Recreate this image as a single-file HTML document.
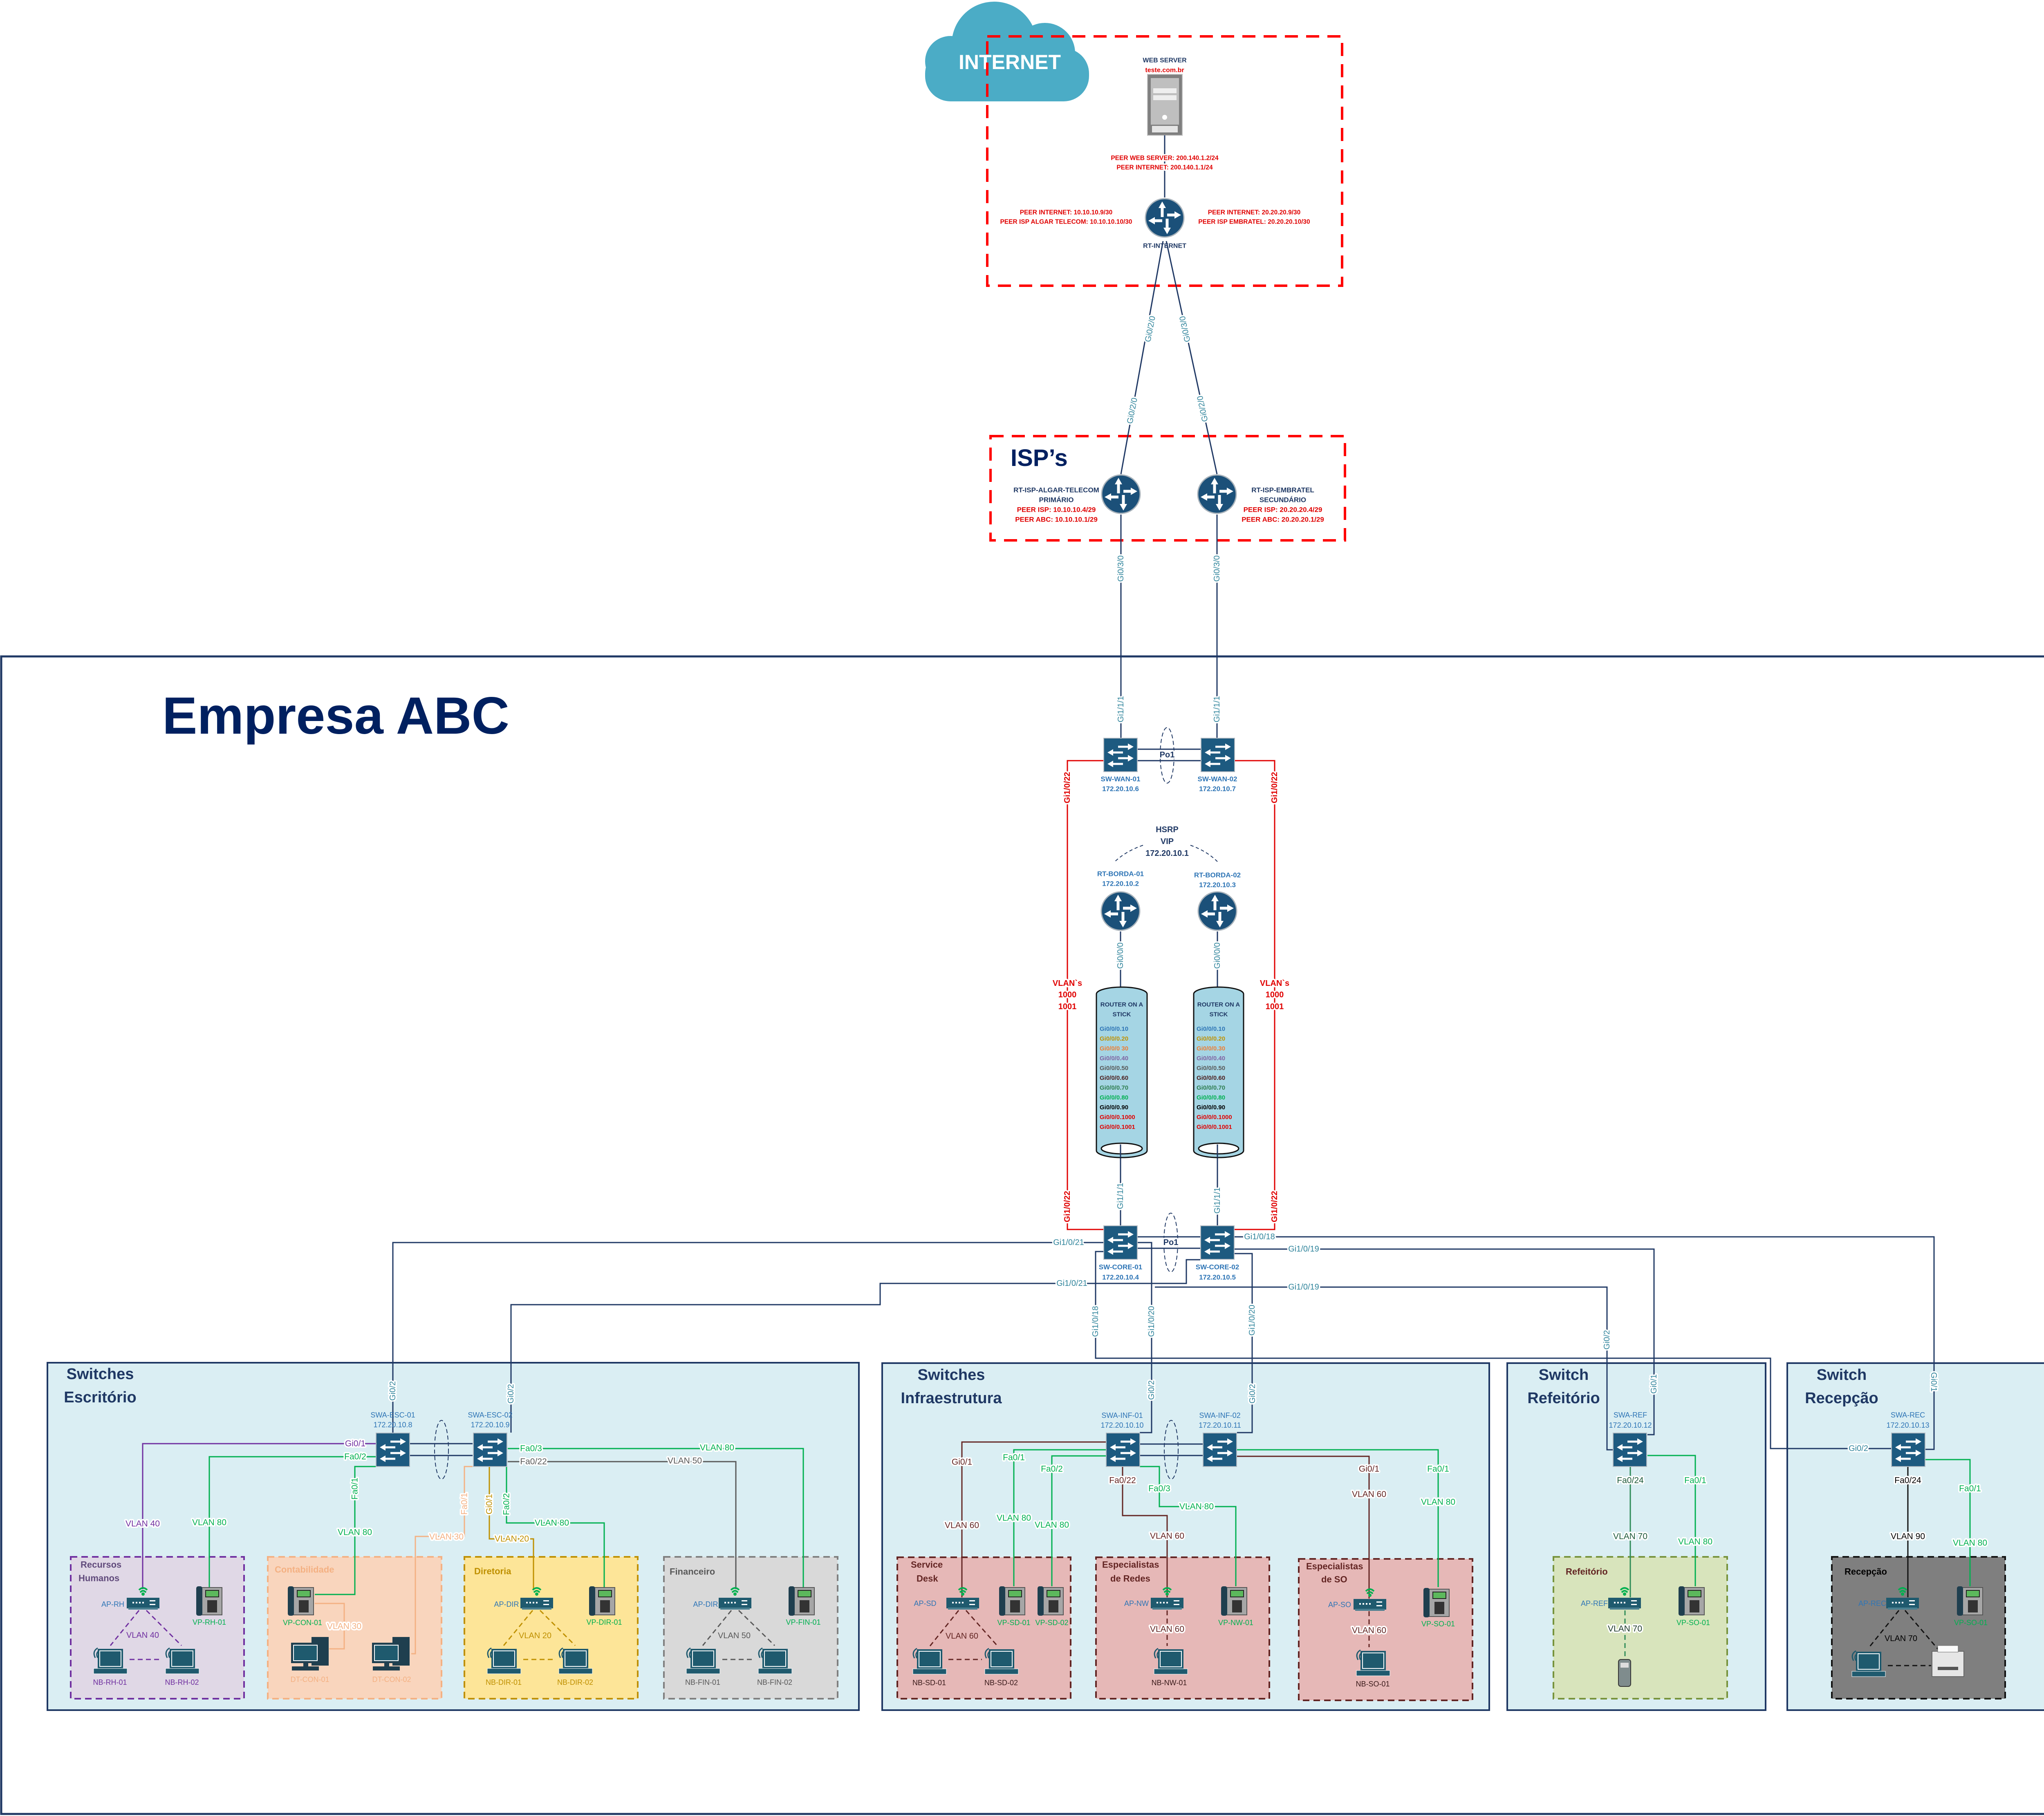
<!DOCTYPE html>
<html><head><meta charset="utf-8"><style>
html,body{margin:0;padding:0;background:#fff;width:5107px;height:4443px;overflow:hidden}
svg{display:block;position:absolute;left:0;top:0}
svg text{font-family:"Liberation Sans Narrow","Liberation Sans",sans-serif}
.h{paint-order:stroke;stroke:#fff;stroke-width:7;stroke-linejoin:round}
.b{font-weight:bold}
</style></head><body>
<svg width="5107" height="4443" viewBox="0 0 5107 4443" xmlns="http://www.w3.org/2000/svg">
<defs>
<symbol id="sw" viewBox="0 0 84 84"><rect x="1" y="1" width="82" height="82" fill="#1d5a80" stroke="#b0b8c0" stroke-width="2"/>
<g stroke="#fff" stroke-width="5" fill="#fff"><line x1="36" y1="22" x2="62" y2="22"/><polygon points="60,14 74,22 60,30" stroke="none"/><line x1="22" y1="36" x2="48" y2="36"/><polygon points="24,28 10,36 24,44" stroke="none"/><line x1="36" y1="50" x2="62" y2="50"/><polygon points="60,42 74,50 60,58" stroke="none"/><line x1="22" y1="64" x2="48" y2="64"/><polygon points="24,56 10,64 24,72" stroke="none"/></g></symbol>
<symbol id="rt" viewBox="0 0 100 100"><circle cx="50" cy="50" r="47" fill="#1b5079" stroke="#a9b3bb" stroke-width="3"/>
<g stroke="#fff" stroke-width="7" fill="#fff"><line x1="44" y1="48" x2="44" y2="24"/><polygon points="35,26 44,10 53,26" stroke="none"/><line x1="56" y1="52" x2="56" y2="76"/><polygon points="47,74 56,90 65,74" stroke="none"/><line x1="56" y1="43" x2="76" y2="43"/><polygon points="74,34 90,43 74,52" stroke="none"/><line x1="44" y1="57" x2="24" y2="57"/><polygon points="26,48 10,57 26,66" stroke="none"/></g></symbol>
<symbol id="ap" viewBox="0 0 80 62"><g fill="none" stroke="#00b050" stroke-width="4"><path d="M30 14 Q40 4 50 14"/><path d="M33 20 Q40 12 47 20"/></g><circle cx="40" cy="24" r="4" fill="#00b050"/><rect x="0" y="33" width="80" height="26" fill="#1f5a6e"/><rect x="4" y="57" width="72" height="5" fill="#4a7f90"/><g fill="#fff"><rect x="14" y="43" width="4" height="4"/><rect x="22" y="43" width="4" height="4"/><rect x="30" y="43" width="4" height="4"/><rect x="38" y="43" width="4" height="4"/><rect x="56" y="39" width="14" height="3"/><rect x="56" y="48" width="14" height="3"/></g></symbol>
<symbol id="ph" viewBox="0 0 66 72"><rect x="14" y="3" width="50" height="67" fill="#a6a6a6" stroke="#555" stroke-width="2"/><rect x="1" y="0" width="15" height="72" rx="5" fill="#1f3f4f"/><rect x="24" y="10" width="32" height="16" fill="#5cb85c" stroke="#222" stroke-width="2"/><g fill="#333"><rect x="28" y="34" width="24" height="30"/></g></symbol>
<symbol id="lp" viewBox="0 0 96 70"><g fill="none" stroke="#1f5a6e" stroke-width="3"><path d="M12 30 Q4 14 18 6"/><path d="M18 30 Q12 18 22 12"/></g><rect x="18" y="8" width="62" height="48" fill="#1f5a6e"/><rect x="23" y="13" width="52" height="38" fill="#1f5a6e" stroke="#fff" stroke-width="2"/><rect x="8" y="56" width="82" height="13" fill="#1f5a6e" stroke="#fff" stroke-width="1"/></symbol>
<symbol id="pc" viewBox="0 0 94 82"><rect x="50" y="0" width="42" height="70" fill="#1f3f4f"/><rect x="0" y="14" width="70" height="50" fill="#1f3f4f"/><rect x="6" y="20" width="58" height="38" fill="#1f5a6e" stroke="#fff" stroke-width="2"/><rect x="30" y="64" width="12" height="8" fill="#1f3f4f"/><rect x="2" y="72" width="66" height="10" fill="#1f3f4f"/></symbol>
</defs>

<rect x="3" y="1606" width="5099" height="2832" fill="none" stroke="#1f3864" stroke-width="5"/>
<text x="397" y="1795" font-size="128" class="b" fill="#002060">Empresa ABC</text>

<g fill="#daeef3" stroke="#1f3864" stroke-width="4">
<rect x="116" y="3334" width="1985" height="850"/>
<rect x="2158" y="3335" width="1485" height="849"/>
<rect x="3687" y="3335" width="632" height="849"/>
<rect x="4372" y="3335" width="634" height="849"/>
</g>
<g stroke-width="4" stroke-dasharray="16 10">
<rect x="173" y="3809" width="424" height="347" fill="#e0d8e6" stroke="#7030a0"/>
<rect x="655" y="3809" width="425" height="347" fill="#f9d5bd" stroke="#f4b183"/>
<rect x="1136" y="3809" width="424" height="347" fill="#fde598" stroke="#bf9000"/>
<rect x="1624" y="3809" width="425" height="347" fill="#d9d9d9" stroke="#7f7f7f"/>
<rect x="2195" y="3810" width="424" height="346" fill="#e6b8b7" stroke="#632523"/>
<rect x="2681" y="3810" width="424" height="346" fill="#e6b8b7" stroke="#632523"/>
<rect x="3177" y="3814" width="425" height="346" fill="#e6b8b7" stroke="#632523"/>
<rect x="3800" y="3809" width="425" height="347" fill="#d8e4bc" stroke="#77933c"/>
<rect x="4481" y="3809" width="424" height="347" fill="#7f7f7f" stroke="#111"/>
</g>

<g fill="#4bacc6"><rect x="2263" y="118" width="401" height="130" rx="62"/><circle cx="2432" cy="108" r="104"/><circle cx="2556" cy="130" r="74"/><circle cx="2325" cy="150" r="62"/></g>
<text x="2470" y="152" font-size="50" class="b" fill="#fff" text-anchor="middle" dominant-baseline="central">INTERNET</text>
<rect x="2415" y="89" width="868" height="610" fill="none" stroke="#ff0000" stroke-width="6" stroke-dasharray="32 20"/>
<rect x="2423" y="1067" width="867" height="255" fill="none" stroke="#ff0000" stroke-width="6" stroke-dasharray="32 20"/>

<rect x="2807" y="182" width="85" height="149" fill="#7f7f7f" stroke="#bbb" stroke-width="2"/>
<rect x="2815" y="191" width="69" height="114" fill="#bfbfbf"/>
<rect x="2821" y="216" width="57" height="12" fill="#eee"/><rect x="2821" y="233" width="57" height="12" fill="#eee"/>
<circle cx="2849" cy="287" r="6" fill="#fff"/>
<rect x="2818" y="308" width="63" height="16" fill="#fff" opacity=".8"/>

<g fill="none" stroke="#1f3864" stroke-width="3">
<path d="M2849 331V483"/>
<path d="M2845 590L2742 1160"/><path d="M2853 590L2977 1160"/>
<path d="M2742 1259V1805"/><path d="M2977 1259V1805"/>
<path d="M2783 1833H2937M2783 1861H2937"/>
<path d="M2741 2279V2415M2978 2279V2415"/>
<path d="M2741 2790V2998M2978 2790V2998"/>
<path d="M2783 3026H2936M2783 3054H2936"/>
<path d="M3020 3026H4731V3546H4710"/>
<path d="M3020 3056H4046V3510H4030"/>
<path d="M2699 3040H961V3505"/>
<path d="M2936 3082H2902V3140H2153V3192H1250V3505"/>
<path d="M2783 3040H2817V3505H2788"/>
<path d="M2825 3149H3931V3547H3945"/>
<path d="M3020 3067H3063V3505H3026"/>
<path d="M2699 3062H2680V3323H4331V3544H4626"/>
<path d="M1003 3532H1156M1003 3561H1156"/>
<path d="M2788 3533H2942M2788 3561H2942"/>
</g>
<g fill="none" stroke="#e00000" stroke-width="3"><path d="M2699 1861H2611V3008H2699"/><path d="M3020 1861H3118V3008H3020"/></g>
<g fill="none" stroke="#1f3864" stroke-width="2" stroke-dasharray="8 6"><path d="M2796 2068Q2755 2082 2727 2108"/><path d="M2912 2068Q2952 2082 2978 2108"/></g>
<g fill="none" stroke="#1f3864" stroke-width="2" stroke-dasharray="10 6"><ellipse cx="2855" cy="1848" rx="17" ry="68"/><ellipse cx="2864" cy="3040" rx="17" ry="72"/><ellipse cx="1080" cy="3547" rx="17" ry="72"/><ellipse cx="2865" cy="3547" rx="17" ry="72"/></g>

<g fill="none" stroke-width="3">
<path d="M919 3532H349V3888" stroke="#7030a0"/>
<path d="M919 3564H512V3883" stroke="#00b050"/>
<path d="M919 3588H868V3901H770" stroke="#00b050"/>
<path d="M1156 3588H1136V3759H1016V4046H1006" stroke="#f4b183"/>
<path d="M770 3923H842V4034H805" stroke="#f4b183"/>
<path d="M1197 3588V3765H1305V3888" stroke="#bf9000"/>
<path d="M1239 3588V3726H1478V3883" stroke="#00b050"/>
<path d="M1242 3544H1965V3883" stroke="#00b050"/>
<path d="M1242 3576H1800V3888" stroke="#595959"/>
<path d="M2705 3528H2353V3908" stroke="#632523"/>
<path d="M2705 3547H2480V3881" stroke="#00b050"/>
<path d="M2705 3562H2573V3881" stroke="#00b050"/>
<path d="M2746 3588V3708H2855V3908" stroke="#632523"/>
<path d="M2788 3588H2836V3686H3023V3881" stroke="#00b050"/>
<path d="M3026 3547H3518V3883" stroke="#00b050"/>
<path d="M3026 3563H3349V3911" stroke="#632523"/>
<path d="M3988 3589V3908" stroke="#2e8b57"/>
<path d="M4030 3561H4147V3881" stroke="#00b050"/>
<path d="M4667 3589V3908" stroke="#111"/>
<path d="M4710 3571H4819V3881" stroke="#00b050"/>
</g>
<g fill="none" stroke-width="3" stroke-dasharray="12 8">
<path d="M340 3940L270 4026M358 3940L444 4026M317 4060H397" stroke="#7030a0"/>
<path d="M1303 3940L1232 4026M1321 3940L1407 4026M1280 4060H1359" stroke="#bf9000"/>
<path d="M1789 3940L1719 4026M1807 3940L1895 4026M1767 4060H1847" stroke="#595959"/>
<path d="M2345 3940L2275 4027M2363 3940L2440 4027M2320 4060H2402" stroke="#632523"/>
<path d="M2855 3940V4027M3349 3942V4030" stroke="#632523"/>
<path d="M3975 3940V4052" stroke="#2e8b57"/>
<path d="M4645 3940L4570 4033M4660 3940L4745 4040M4618 4075H4724" stroke="#111"/>
</g>

<g stroke="#111" stroke-width="3">
<path d="M2682 2432V2815A62 17 0 0 0 2806 2815V2432A62 17 0 0 0 2682 2432Z" fill="#a5d5e4"/>
<ellipse cx="2744" cy="2810" rx="50" ry="13" fill="#fff"/>
<path d="M2920 2432V2815A61 17 0 0 0 3042 2815V2432A61 17 0 0 0 2920 2432Z" fill="#a5d5e4"/>
<ellipse cx="2981" cy="2810" rx="49" ry="13" fill="#fff"/>
</g>
<path d="M2741 2800V2832M2978 2800V2832" stroke="#1f3864" stroke-width="3"/>

<use href="#rt" x="2799" y="483" width="100" height="100"/>
<use href="#rt" x="2692" y="1159" width="100" height="100"/>
<use href="#rt" x="2927" y="1159" width="100" height="100"/>
<use href="#rt" x="2691" y="2179" width="100" height="100"/>
<use href="#rt" x="2928" y="2179" width="100" height="100"/>
<use href="#sw" x="2699" y="1805" width="84" height="84"/>
<use href="#sw" x="2937" y="1805" width="84" height="84"/>
<use href="#sw" x="2699" y="2998" width="84" height="84"/>
<use href="#sw" x="2936" y="2998" width="84" height="84"/>
<use href="#sw" x="919" y="3505" width="84" height="84"/>
<use href="#sw" x="1157" y="3505" width="84" height="84"/>
<use href="#sw" x="2705" y="3505" width="84" height="84"/>
<use href="#sw" x="2942" y="3505" width="84" height="84"/>
<use href="#sw" x="3945" y="3505" width="84" height="84"/>
<use href="#sw" x="4626" y="3505" width="84" height="84"/>

<use href="#ap" x="310" y="3876" width="80" height="62"/>
<use href="#ap" x="1273" y="3876" width="80" height="62"/>
<use href="#ap" x="1758" y="3876" width="80" height="62"/>
<use href="#ap" x="2315" y="3876" width="80" height="62"/>
<use href="#ap" x="2815" y="3876" width="80" height="62"/>
<use href="#ap" x="3311" y="3879" width="80" height="62"/>
<use href="#ap" x="3934" y="3876" width="80" height="62"/>
<use href="#ap" x="4614" y="3876" width="80" height="62"/>
<use href="#ph" x="479" y="3881" width="66" height="72"/>
<use href="#ph" x="703" y="3881" width="66" height="72"/>
<use href="#ph" x="1440" y="3881" width="66" height="72"/>
<use href="#ph" x="1928" y="3881" width="66" height="72"/>
<use href="#ph" x="2443" y="3881" width="66" height="72"/>
<use href="#ph" x="2537" y="3881" width="66" height="72"/>
<use href="#ph" x="2986" y="3881" width="66" height="72"/>
<use href="#ph" x="3481" y="3885" width="66" height="72"/>
<use href="#ph" x="4105" y="3881" width="66" height="72"/>
<use href="#ph" x="4786" y="3881" width="66" height="72"/>
<use href="#lp" x="221" y="4026" width="96" height="70"/>
<use href="#lp" x="397" y="4026" width="96" height="70"/>
<use href="#lp" x="1184" y="4026" width="96" height="70"/>
<use href="#lp" x="1359" y="4026" width="96" height="70"/>
<use href="#lp" x="1671" y="4026" width="96" height="70"/>
<use href="#lp" x="1847" y="4026" width="96" height="70"/>
<use href="#lp" x="2225" y="4027" width="96" height="70"/>
<use href="#lp" x="2401" y="4027" width="96" height="70"/>
<use href="#lp" x="2815" y="4027" width="96" height="70"/>
<use href="#lp" x="3310" y="4031" width="96" height="70"/>
<use href="#lp" x="4522" y="4033" width="96" height="70"/>
<use href="#pc" x="712" y="4005" width="94" height="82"/>
<use href="#pc" x="910" y="4005" width="94" height="82"/>
<rect x="3959" y="4060" width="30" height="66" rx="6" fill="#7f8c8d" stroke="#333" stroke-width="2"/><rect x="3964" y="4068" width="20" height="12" fill="#ddd"/>
<rect x="4726" y="4040" width="78" height="62" fill="#e6e6e6" stroke="#666" stroke-width="2"/><rect x="4740" y="4026" width="50" height="16" fill="#fafafa" stroke="#666"/><rect x="4740" y="4078" width="50" height="8" fill="#555"/>

<g class="b" text-anchor="middle" dominant-baseline="central">
<text x="2849" y="148" font-size="16" fill="#1f3864">WEB SERVER</text>
<text x="2849" y="172" font-size="16" fill="#e00000">teste.com.br</text>
<g font-size="15.5" fill="#e00000" class="b h">
<text x="2849" y="387">PEER WEB SERVER: 200.140.1.2/24</text>
<text x="2849" y="410">PEER INTERNET: 200.140.1.1/24</text>
<text x="2608" y="520">PEER INTERNET: 10.10.10.9/30</text>
<text x="2608" y="543">PEER ISP ALGAR TELECOM: 10.10.10.10/30</text>
<text x="3068" y="520">PEER INTERNET: 20.20.20.9/30</text>
<text x="3068" y="543">PEER ISP EMBRATEL: 20.20.20.10/30</text>
</g>
<text x="2849" y="602" font-size="16" fill="#1f3864">RT-INTERNET</text>
<g font-size="17" fill="#1f3864"><text x="2584" y="1199">RT-ISP-ALGAR-TELECOM</text><text x="2584" y="1223">PRIMÁRIO</text><text x="3138" y="1199">RT-ISP-EMBRATEL</text><text x="3138" y="1223">SECUNDÁRIO</text></g>
<g font-size="17" fill="#e00000"><text x="2584" y="1247">PEER ISP: 10.10.10.4/29</text><text x="2584" y="1271">PEER ABC: 10.10.10.1/29</text><text x="3138" y="1247">PEER ISP: 20.20.20.4/29</text><text x="3138" y="1271">PEER ABC: 20.20.20.1/29</text></g>
<g font-size="17" fill="#2e75b6">
<text x="2741" y="1906">SW-WAN-01</text><text x="2741" y="1930">172.20.10.6</text>
<text x="2978" y="1906">SW-WAN-02</text><text x="2978" y="1930">172.20.10.7</text>
<text x="2741" y="2138">RT-BORDA-01</text><text x="2741" y="2162">172.20.10.2</text>
<text x="2978" y="2141">RT-BORDA-02</text><text x="2978" y="2165">172.20.10.3</text>
<text x="2741" y="3100">SW-CORE-01</text><text x="2741" y="3125">172.20.10.4</text>
<text x="2978" y="3100">SW-CORE-02</text><text x="2978" y="3125">172.20.10.5</text>
</g>
<g font-size="20" fill="#1f3864"><text x="2855" y="1847" class="h">Po1</text><text x="2864" y="3040" class="h">Po1</text>
<text x="2855" y="2030">HSRP</text><text x="2855" y="2059">VIP</text><text x="2855" y="2088">172.20.10.1</text></g>
<g font-size="20" fill="#e00000" class="h"><text x="2611" y="2406">VLAN`s</text><text x="2611" y="2434">1000</text><text x="2611" y="2463">1001</text><text x="3118" y="2406">VLAN`s</text><text x="3118" y="2434">1000</text><text x="3118" y="2463">1001</text>
<text transform="translate(2611 1927) rotate(-90)">Gi1/0/22</text><text transform="translate(3118 1927) rotate(-90)">Gi1/0/22</text>
<text transform="translate(2611 2952) rotate(-90)">Gi1/0/22</text><text transform="translate(3118 2952) rotate(-90)">Gi1/0/22</text></g>
<g font-size="15" fill="#1f3864"><text x="2744" y="2458">ROUTER ON A</text><text x="2744" y="2482">STICK</text><text x="2981" y="2458">ROUTER ON A</text><text x="2981" y="2482">STICK</text></g>
</g>
<text x="2472" y="1140" font-size="58" class="b" fill="#002060">ISP’s</text>

<g font-size="15" class="b">
<g transform="translate(2690 0)"><text y="2522" fill="#2e75b6">Gi0/0/0.10</text><text y="2546" fill="#bf9000">Gi0/0/0.20</text><text y="2570" fill="#ed7d31">Gi0/0/0 30</text><text y="2594" fill="#8064a2">Gi0/0/0.40</text><text y="2618" fill="#595959">Gi0/0/0.50</text><text y="2642" fill="#4d2020">Gi0/0/0.60</text><text y="2666" fill="#2e7d4f">Gi0/0/0.70</text><text y="2690" fill="#00b050">Gi0/0/0.80</text><text y="2714" fill="#000">Gi0/0/0.90</text><text y="2738" fill="#e00000">Gi0/0/0.1000</text><text y="2762" fill="#e00000">Gi0/0/0.1001</text></g>
<g transform="translate(2927 0)"><text y="2522" fill="#2e75b6">Gi0/0/0.10</text><text y="2546" fill="#bf9000">Gi0/0/0.20</text><text y="2570" fill="#ed7d31">Gi0/0/0.30</text><text y="2594" fill="#8064a2">Gi0/0/0.40</text><text y="2618" fill="#595959">Gi0/0/0.50</text><text y="2642" fill="#4d2020">Gi0/0/0.60</text><text y="2666" fill="#2e7d4f">Gi0/0/0.70</text><text y="2690" fill="#00b050">Gi0/0/0.80</text><text y="2714" fill="#000">Gi0/0/0.90</text><text y="2738" fill="#e00000">Gi0/0/0.1000</text><text y="2762" fill="#e00000">Gi0/0/0.1001</text></g>
</g>

<g font-size="20" fill="#31859c" class="h" text-anchor="middle" dominant-baseline="central">
<text transform="translate(2814 805) rotate(-79)">Gi0/2/0</text>
<text transform="translate(2770 1005) rotate(-79)">Gi0/2/0</text>
<text transform="translate(2899 805) rotate(-102)">Gi0/3/0</text>
<text transform="translate(2942 1000) rotate(-102)">Gi0/2/0</text>
<text transform="translate(2742 1391) rotate(-90)">Gi0/3/0</text>
<text transform="translate(2977 1391) rotate(-90)">Gi0/3/0</text>
<text transform="translate(2742 1735) rotate(-90)">Gi1/1/1</text>
<text transform="translate(2977 1735) rotate(-90)">Gi1/1/1</text>
<text transform="translate(2741 2338) rotate(-90)">Gi0/0/0</text>
<text transform="translate(2978 2338) rotate(-90)">Gi0/0/0</text>
<text transform="translate(2741 2926) rotate(-90)">Gi1/1/1</text>
<text transform="translate(2978 2937) rotate(-90)">Gi1/1/1</text>
<text x="2614" y="3040">Gi1/0/21</text>
<text x="2622" y="3140">Gi1/0/21</text>
<text x="3081" y="3026">Gi1/0/18</text>
<text x="3189" y="3056">Gi1/0/19</text>
<text x="3189" y="3149">Gi1/0/19</text>
<text transform="translate(2680 3233) rotate(-90)">Gi1/0/18</text>
<text transform="translate(2817 3233) rotate(-90)">Gi1/0/20</text>
<text transform="translate(3063 3230) rotate(-90)">Gi1/0/20</text>
<text transform="translate(3931 3278) rotate(-90)">Gi0/2</text>
<text transform="translate(961 3403) rotate(-90)">Gi0/2</text>
<text transform="translate(1250 3410) rotate(-90)">Gi0/2</text>
<text transform="translate(2817 3401) rotate(-90)">Gi0/2</text>
<text transform="translate(3064 3410) rotate(-90)">Gi0/2</text>
<text transform="translate(4046 3386) rotate(-90)">Gi0/1</text>
<text transform="translate(4730 3381) rotate(90)">Gi0/1</text>
<text x="4546" y="3544">Gi0/2</text>
</g>

<g font-size="38" class="b" fill="#1f3864" text-anchor="middle" dominant-baseline="central">
<text x="245" y="3362">Switches</text><text x="245" y="3419">Escritório</text>
<text x="2327" y="3364">Switches</text><text x="2327" y="3421">Infraestrutura</text>
<text x="3825" y="3364">Switch</text><text x="3825" y="3421">Refeitório</text>
<text x="4505" y="3364">Switch</text><text x="4505" y="3421">Recepção</text>
</g>

<g font-size="18" text-anchor="middle" dominant-baseline="central">
<g fill="#2e75b6">
<text x="961" y="3462">SWA-ESC-01</text><text x="961" y="3486">172.20.10.8</text>
<text x="1199" y="3462">SWA-ESC-02</text><text x="1199" y="3486">172.20.10.9</text>
<text x="2745" y="3463">SWA-INF-01</text><text x="2745" y="3487">172.20.10.10</text>
<text x="2984" y="3463">SWA-INF-02</text><text x="2984" y="3487">172.20.10.11</text>
<text x="3988" y="3462">SWA-REF</text><text x="3988" y="3487">172.20.10.12</text>
<text x="4667" y="3462">SWA-REC</text><text x="4667" y="3487">172.20.10.13</text>
<text x="276" y="3925">AP-RH</text><text x="1239" y="3925">AP-DIR</text><text x="1726" y="3925">AP-DIR</text>
<text x="2263" y="3923">AP-SD</text><text x="2780" y="3923">AP-NW</text><text x="3277" y="3926">AP-SO</text>
<text x="3900" y="3923">AP-REF</text><text x="4580" y="3923">AP-REC</text>
</g>
<g class="h" font-size="21">
<g fill="#7030a0"><text x="869" y="3532">Gi0/1</text><text x="349" y="3728">VLAN 40</text></g>
<g fill="#00b050"><text x="869" y="3564">Fa0/2</text><text x="512" y="3725">VLAN 80</text><text transform="translate(868 3642) rotate(-90)">Fa0/1</text><text x="868" y="3749">VLAN 80</text>
<text transform="translate(1239 3680) rotate(-90)">Fa0/2</text><text x="1350" y="3726">VLAN 80</text><text x="1299" y="3544">Fa0/3</text><text x="1754" y="3542">VLAN 80</text></g>
<g fill="#f4b183"><text transform="translate(1136 3679) rotate(-90)">Fa0/1</text><text x="1092" y="3760">VLAN 30</text><text x="842" y="3979">VLAN 30</text></g>
<g fill="#bf9000"><text transform="translate(1197 3680) rotate(-90)">Gi0/1</text><text x="1252" y="3765">VLAN 20</text></g>
<g fill="#595959"><text x="1305" y="3576">Fa0/22</text><text x="1675" y="3574">VLAN 50</text></g>
<g fill="#632523"><text x="2353" y="3577">Gi0/1</text><text x="2353" y="3732">VLAN 60</text><text x="2746" y="3622">Fa0/22</text><text x="2855" y="3758">VLAN 60</text><text x="3349" y="3594">Gi0/1</text><text x="3349" y="3656">VLAN 60</text></g>
<g fill="#00b050"><text x="2480" y="3566">Fa0/1</text><text x="2480" y="3714">VLAN 80</text><text x="2573" y="3594">Fa0/2</text><text x="2573" y="3731">VLAN 80</text><text x="2836" y="3642">Fa0/3</text><text x="2927" y="3686">VLAN 80</text><text x="3518" y="3594">Fa0/1</text><text x="3518" y="3675">VLAN 80</text>
<text x="4147" y="3622">Fa0/1</text><text x="4147" y="3772">VLAN 80</text><text x="4819" y="3642">Fa0/1</text><text x="4819" y="3775">VLAN 80</text></g>
<g fill="#1e5a3a"><text x="3988" y="3622">Fa0/24</text><text x="3988" y="3759">VLAN 70</text></g>
<g fill="#000"><text x="4667" y="3622">Fa0/24</text><text x="4667" y="3759">VLAN 90</text></g>
<g fill="#632523"><text x="2855" y="3986">VLAN 60</text><text x="3349" y="3989">VLAN 60</text></g>
<g fill="#1e3a2a"><text x="3975" y="3985">VLAN 70</text></g>
</g>
<g font-size="20">
<text x="349" y="4001" fill="#7030a0">VLAN 40</text><text x="1309" y="4002" fill="#bf9000">VLAN 20</text><text x="1796" y="4002" fill="#595959">VLAN 50</text><text x="2353" y="4003" fill="#632523">VLAN 60</text><text x="4650" y="4009" fill="#000">VLAN 70</text>
</g>
<g fill="#00b050"><text x="512" y="3969">VP-RH-01</text><text x="740" y="3970">VP-CON-01</text><text x="1478" y="3969">VP-DIR-01</text><text x="1965" y="3969">VP-FIN-01</text>
<text x="2480" y="3970">VP-SD-01</text><text x="2573" y="3970">VP-SD-02</text><text x="3023" y="3970">VP-NW-01</text><text x="3518" y="3973">VP-SO-01</text><text x="4142" y="3970">VP-SO-01</text><text x="4821" y="3970">VP-SO-01</text></g>
<g fill="#7030a0"><text x="269" y="4116">NB-RH-01</text><text x="445" y="4116">NB-RH-02</text></g>
<g fill="#f4b183"><text x="758" y="4109">DT-CON-01</text><text x="958" y="4109">DT-CON-02</text></g>
<g fill="#bf9000"><text x="1232" y="4116">NB-DIR-01</text><text x="1407" y="4116">NB-DIR-02</text></g>
<g fill="#595959"><text x="1719" y="4116">NB-FIN-01</text><text x="1895" y="4116">NB-FIN-02</text></g>
<g fill="#3a1a1a"><text x="2273" y="4117">NB-SD-01</text><text x="2449" y="4117">NB-SD-02</text><text x="2860" y="4117">NB-NW-01</text><text x="3358" y="4120">NB-SO-01</text></g>
</g>
<g font-size="22" class="b" dominant-baseline="central">
<text x="197" y="3828" fill="#604a7b">Recursos</text><text x="192" y="3861" fill="#604a7b">Humanos</text>
<text x="672" y="3840" fill="#f4b183">Contabilidade</text>
<text x="1160" y="3844" fill="#bf9000">Diretoria</text>
<text x="1638" y="3845" fill="#595959">Financeiro</text>
<text x="2228" y="3828" fill="#632523">Service</text><text x="2242" y="3862" fill="#632523">Desk</text>
<text x="2696" y="3828" fill="#632523">Especialistas</text><text x="2716" y="3862" fill="#632523">de Redes</text>
<text x="3195" y="3832" fill="#632523">Especialistas</text><text x="3232" y="3864" fill="#632523">de SO</text>
<text x="3830" y="3845" fill="#632523">Refeitório</text>
<text x="4512" y="3845" fill="#000">Recepção</text>
</g>
</svg>
</body></html>
